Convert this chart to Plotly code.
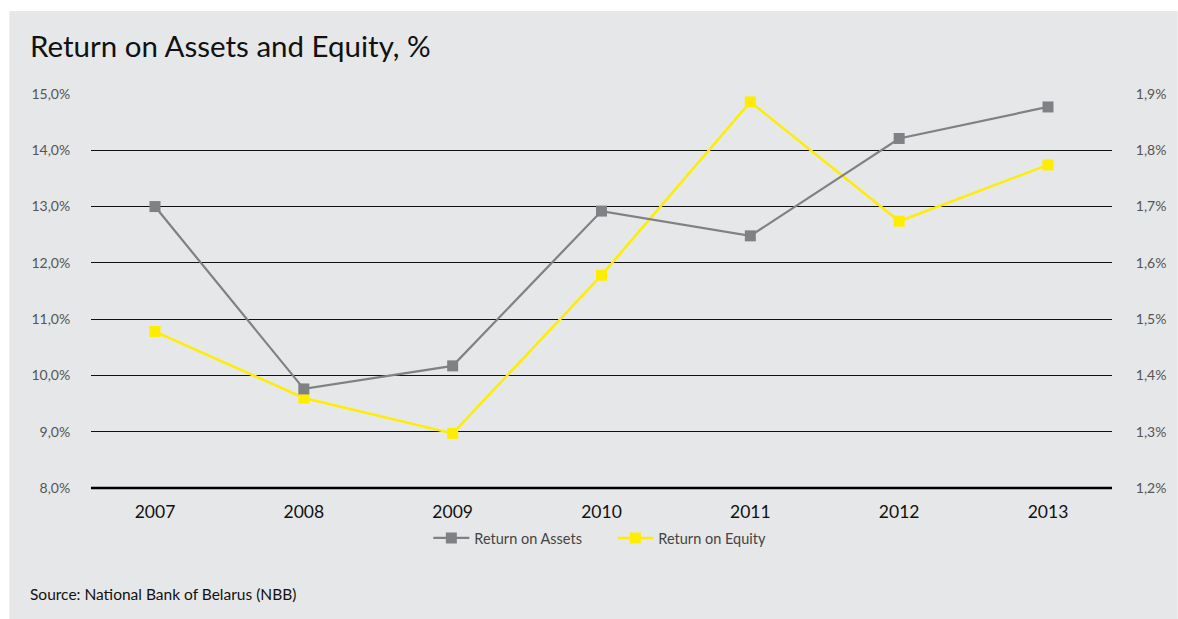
import plotly.graph_objects as go

# Data (values in %)
years = ["2007", "2008", "2009", "2010", "2011", "2012", "2013"]
roa = [1.70, 1.376, 1.417, 1.692, 1.648, 1.821, 1.877]   # right axis
roe = [10.78, 9.60, 8.97, 11.78, 14.86, 12.74, 13.74]    # left axis

left_ticks = [8, 9, 10, 11, 12, 13, 14, 15]
right_ticks = [1.2, 1.3, 1.4, 1.5, 1.6, 1.7, 1.8, 1.9]

GRAY = "#808184"
YELLOW = "#ffed00"
PANEL = "#e6e7e8"
FONT = "Lato"

W, H = 1178, 619
L, R, T, B = 91, 61, 94, 131
pw, ph = W - L - R, H - T - B


def px_x(p):
    return (p - L) / pw


def px_y(p):
    return (H - B - p) / ph


def pct(v):
    return f"{v:.1f}".replace(".", ",") + "%"


x = list(range(len(years)))

fig = go.Figure()
fig.add_trace(go.Scatter(
    x=x, y=roa, name="Return on Assets", yaxis="y2",
    mode="lines+markers",
    line=dict(color=GRAY, width=2.2),
    marker=dict(symbol="square", size=11, color=GRAY),
))
fig.add_trace(go.Scatter(
    x=x, y=roe, name="Return on Equity", yaxis="y",
    mode="lines+markers",
    line=dict(color=YELLOW, width=2.5),
    marker=dict(symbol="square", size=11, color=YELLOW),
))

shapes = [
    # light grey panel behind everything
    dict(type="rect", xref="paper", yref="paper", layer="below",
         x0=px_x(9), x1=px_x(W + 5), y0=px_y(H + 5), y1=px_y(11),
         fillcolor=PANEL, line=dict(width=0)),
    # heavier baseline
    dict(type="line", xref="paper", yref="paper", x0=0, x1=1, y0=0, y1=0,
         line=dict(color="black", width=2.6)),
]

annotations = [
    dict(text="Return on Assets and Equity, %", xref="paper", yref="paper",
         x=px_x(28), y=px_y(45), xanchor="left", yanchor="middle",
         showarrow=False, font=dict(family=FONT, size=29.5, color="#111111")),
    dict(text="Source: National Bank of Belarus (NBB)", xref="paper", yref="paper",
         x=px_x(28), y=px_y(594), xanchor="left", yanchor="middle",
         showarrow=False, font=dict(family=FONT, size=15.5, color="#111111")),
]

fig.update_layout(
    width=W, height=H,
    margin=dict(l=L, r=R, t=T, b=B),
    paper_bgcolor="white",
    plot_bgcolor="rgba(0,0,0,0)",
    font=dict(family=FONT),
    showlegend=True,
    legend=dict(orientation="h", x=px_x(430), xanchor="left",
                y=px_y(538), yanchor="middle",
                bgcolor="rgba(0,0,0,0)",
                font=dict(family=FONT, size=14.5, color="#444444"),
                itemwidth=36, entrywidth=133, entrywidthmode="pixels",
                tracegroupgap=0),
    xaxis=dict(
        range=[-0.43, 6.43], tickmode="array", tickvals=x, ticktext=years,
        showgrid=False, zeroline=False, showline=False,
        ticks="outside", ticklen=8, tickcolor="rgba(0,0,0,0)",
        tickfont=dict(family=FONT, size=17.5, color="#111111"),
    ),
    yaxis=dict(
        range=[8, 15], tickmode="array", tickvals=left_ticks,
        ticktext=[pct(v) for v in left_ticks],
        showgrid=True, gridcolor="#111111", gridwidth=1.2,
        zeroline=False, showline=False,
        ticks="outside", ticklen=17, tickcolor="rgba(0,0,0,0)",
        tickfont=dict(family=FONT, size=14, color="#555555"),
    ),
    yaxis2=dict(
        range=[1.2, 1.9], tickmode="array", tickvals=right_ticks,
        ticktext=[pct(v) for v in right_ticks],
        overlaying="y", side="right",
        showgrid=False, zeroline=False, showline=False,
        ticks="outside", ticklen=20, tickcolor="rgba(0,0,0,0)",
        tickfont=dict(family=FONT, size=14, color="#555555"),
    ),
    shapes=shapes,
    annotations=annotations,
)

fig.write_html("out.html")
